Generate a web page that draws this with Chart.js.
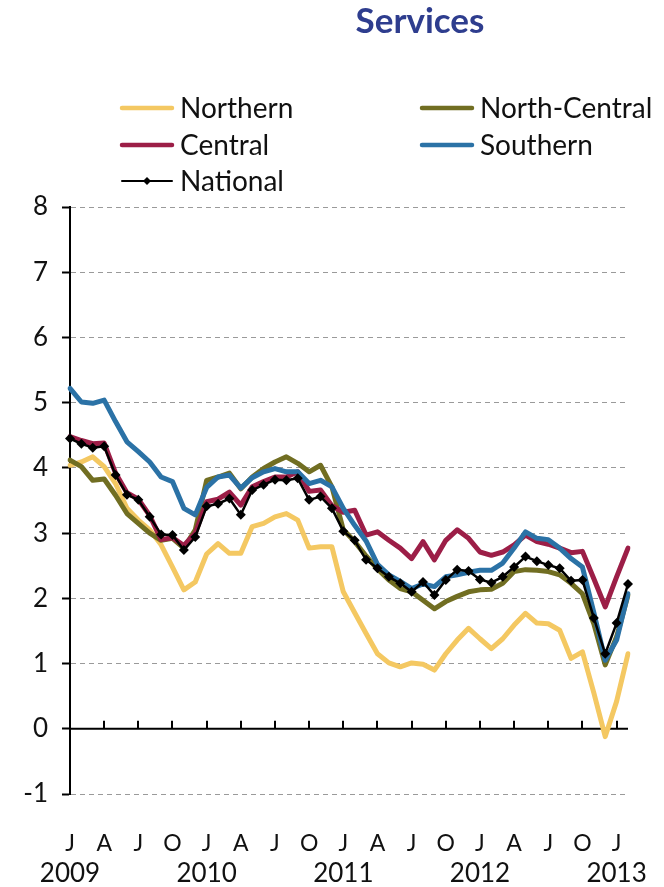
<!DOCTYPE html>
<html><head><meta charset="utf-8">
<script src="https://cdn.jsdelivr.net/npm/chart.js@4.4.1/dist/chart.umd.min.js"></script>
<style>html,body{margin:0;padding:0;background:#fff;}#wrap{width:664px;height:887px;}</style>
</head><body><div id="wrap"><canvas id="c" width="664" height="887"></canvas></div>
<script>
const chartTitle = 'Services';
const categories = ['2009-01','2009-02','2009-03','2009-04','2009-05','2009-06','2009-07','2009-08','2009-09','2009-10','2009-11','2009-12',
'2010-01','2010-02','2010-03','2010-04','2010-05','2010-06','2010-07','2010-08','2010-09','2010-10','2010-11','2010-12',
'2011-01','2011-02','2011-03','2011-04','2011-05','2011-06','2011-07','2011-08','2011-09','2011-10','2011-11','2011-12',
'2012-01','2012-02','2012-03','2012-04','2012-05','2012-06','2012-07','2012-08','2012-09','2012-10','2012-11','2012-12',
'2013-01','2013-02'];
const quarterTickLabels = ['J','A','J','O','J','A','J','O','J','A','J','O','J','A','J','O','J'];
const yearTickLabels = ['2009','2010','2011','2012','2013'];
const yTickValues = [-1,0,1,2,3,4,5,6,7,8];
const seriesNames = ['Northern','North-Central','Central','Southern','National'];
const northern = [4.04,4.09,4.17,4.02,3.76,3.38,3.20,3.05,2.82,2.48, 2.13,2.25,2.68,2.84,2.69,2.69,3.10,3.15,3.25,3.30, 3.20,2.77,2.79,2.79,2.10,1.78,1.46,1.15,1.01,0.95, 1.01,0.99,0.90,1.15,1.36,1.54,1.38,1.23,1.38,1.59, 1.77,1.62,1.61,1.51,1.08,1.18,0.55,-0.12,0.42,1.15];
const northCentral = [4.12,4.02,3.81,3.83,3.58,3.30,3.15,3.00,2.89,2.92, 2.77,3.05,3.81,3.86,3.92,3.68,3.86,3.99,4.09,4.17, 4.07,3.94,4.04,3.71,3.05,2.87,2.65,2.45,2.28,2.15, 2.10,1.97,1.84,1.95,2.03,2.10,2.13,2.14,2.23,2.41, 2.44,2.43,2.41,2.36,2.23,2.07,1.61,0.98,1.41,2.05];
const central = [4.48,4.42,4.37,4.38,3.92,3.62,3.52,3.27,2.90,2.93, 2.81,3.00,3.48,3.52,3.63,3.43,3.71,3.79,3.86,3.86, 3.94,3.64,3.66,3.42,3.32,3.35,2.97,3.02,2.89,2.77, 2.61,2.87,2.59,2.89,3.05,2.92,2.71,2.66,2.71,2.82, 2.97,2.87,2.83,2.77,2.70,2.72,2.30,1.87,2.33,2.77];
const southern = [5.22,5.01,4.99,5.04,4.71,4.40,4.25,4.09,3.86,3.79, 3.38,3.28,3.70,3.86,3.89,3.69,3.85,3.94,3.99,3.94, 3.94,3.76,3.81,3.71,3.38,3.12,2.88,2.52,2.36,2.26, 2.15,2.22,2.18,2.33,2.36,2.40,2.43,2.43,2.54,2.77, 3.02,2.92,2.90,2.77,2.61,2.48,1.78,1.05,1.36,2.07];
const national = [4.45,4.37,4.31,4.33,3.89,3.59,3.51,3.25,2.98,2.97, 2.74,2.94,3.41,3.45,3.53,3.28,3.66,3.74,3.82,3.81, 3.84,3.51,3.56,3.38,3.03,2.89,2.59,2.46,2.33,2.23, 2.10,2.25,2.05,2.28,2.44,2.42,2.29,2.24,2.33,2.48, 2.64,2.57,2.51,2.46,2.27,2.28,1.70,1.15,1.62,2.22];

const FONT = 'Lato, "Open Sans", sans-serif';
const colors = ['#F4C862','#716E22','#9C1E47','#2B72A6','#000000'];

const titlePlugin = {
  id:'titleText',
  afterDraw(chart){
    const c = chart.ctx; c.save();
    c.font = 'bold 35px ' + FONT; c.fillStyle = '#2E3D8E';
    c.textAlign = 'center'; c.textBaseline = 'middle';
    c.fillText(chartTitle, 420, 22); c.restore();
  }
};
const legendPlugin = {
  id:'gridLegend',
  afterDraw(chart){
    const c = chart.ctx; c.save();
    const pos = [[122,108],[422,108],[122,145],[422,145],[122,181]];
    chart.data.datasets.forEach((ds,i)=>{
      const [x,y] = pos[i];
      c.strokeStyle = ds.borderColor; c.lineWidth = i===4 ? 2 : 4.5; c.lineCap='round';
      c.beginPath(); c.moveTo(x,y); c.lineTo(x+50,y); c.stroke();
      if (i===4){ c.fillStyle='#000'; c.beginPath(); c.moveTo(x+25,y-4); c.lineTo(x+29,y); c.lineTo(x+25,y+4); c.lineTo(x+21,y); c.closePath(); c.fill(); }
      c.fillStyle='#111'; c.font = '28px ' + FONT; c.textAlign='left'; c.textBaseline='middle';
      c.fillText(ds.label, x+58, y+1);
    });
    c.restore();
  }
};
const axisPlugin = {
  id:'zeroAxis',
  beforeDatasetsDraw(chart){
    const c = chart.ctx, x = chart.scales.x, y = chart.scales.y;
    const y0 = y.getPixelForValue(0);
    c.save(); c.strokeStyle='#000'; c.lineWidth=2;
    c.beginPath(); c.moveTo(chart.chartArea.left, y0); c.lineTo(chart.chartArea.right, y0); c.stroke();
    for (let i=3;i<categories.length;i+=3){
      const px = Math.round(x.getPixelForValue(i));
      c.beginPath(); c.moveTo(px, y0); c.lineTo(px, y0-8); c.stroke();
    }
    c.restore();
  }
};

const dsCommon = {tension:0, fill:false, pointRadius:0, borderWidth:5, borderCapStyle:'round', borderJoinStyle:'round'};
const seriesData = [northern, northCentral, central, southern, national];
const datasets = seriesData.map((d,i)=>Object.assign({}, dsCommon, {
  label: seriesNames[i], data: d, borderColor: colors[i], backgroundColor: colors[i], order: 4-i, xAxisID:'x', yAxisID:'y'
}));
Object.assign(datasets[4], {borderWidth:2.5, pointRadius:5, pointStyle:'rectRot', pointBackgroundColor:'#000', pointBorderColor:'#000', pointBorderWidth:0});

new Chart(document.getElementById('c'), {
  type:'line',
  data:{labels:categories, datasets},
  options:{
    responsive:false, animation:false, devicePixelRatio:1,
    layout:{padding:{top:207,left:0,right:30,bottom:0}},
    plugins:{legend:{display:false}, title:{display:false}, tooltip:{enabled:false}},
    scales:{
      y:{min:-1,max:8,
        afterBuildTicks(s){ s.ticks = yTickValues.map(v=>({value:v})); },
        afterFit(s){ s.width = 70; },
        ticks:{font:{family:FONT,size:26}, color:'#111', padding:14},
        grid:{color:(ctx)=> ctx.tick && ctx.tick.value===0 ? 'rgba(0,0,0,0)' : '#9a9a9a', lineWidth:1, tickColor:'#000', tickWidth:2, tickLength:8},
        border:{display:true,color:'#000',width:2,dash:[5,4]}
      },
      x:{type:'category', offset:false, position:'bottom',
        afterFit(s){ s.height = 60; },
        grid:{display:false, drawTicks:false}, border:{display:false},
        ticks:{autoSkip:false, maxRotation:0, minRotation:0, padding:36, font:{family:FONT,size:23}, color:'#111',
          callback:(v,i)=> i%3===0 ? quarterTickLabels[i/3] : ''}
      },
      x2:{type:'category', offset:false, position:'bottom', labels:categories,
        afterFit(s){ s.height = 33; },
        grid:{display:false, drawTicks:false}, border:{display:false},
        ticks:{autoSkip:false, maxRotation:0, minRotation:0, padding:4, font:{family:FONT,size:26}, color:'#111',
          callback:(v,i)=> i%12===0 ? yearTickLabels[i/12] : ''}
      }
    }
  },
  plugins:[titlePlugin, legendPlugin, axisPlugin]
});
</script></body></html>
